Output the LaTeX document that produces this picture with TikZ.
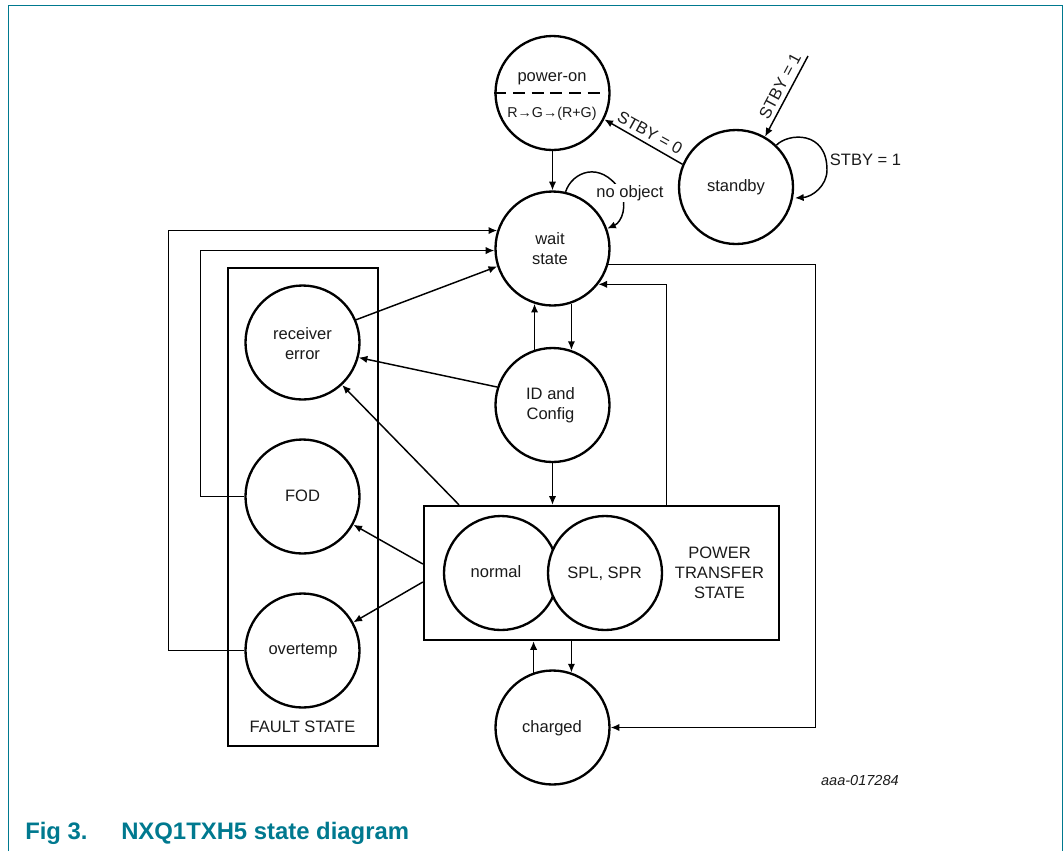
\documentclass[tikz,border=0pt]{standalone}
\usepackage{fontspec}
\setmainfont{Liberation Sans}
\usetikzlibrary{arrows.meta,calc}
\definecolor{nxp}{HTML}{00798F}
\definecolor{ink}{HTML}{1A1A1A}
\tikzset{
  st/.style={circle,draw=black,line width=1.75pt,fill=white,minimum size=85.5pt,inner sep=0pt,align=center,text=ink,font=\fontsize{12.4}{15}\selectfont},
  box/.style={draw=black,line width=1.75pt},
  con/.style={draw=black,line width=1.1pt,-{Latex[length=6.5pt,width=5.5pt]}},
  lbl/.style={text=ink,font=\fontsize{12.4}{15}\selectfont,inner sep=0pt},
}
\begin{document}
\begin{tikzpicture}[x=0.75pt,y=-0.75pt]
\useasboundingbox (0,0) rectangle (1064,851);
% frame
\draw[nxp,line width=0.95pt] (8.5,851) -- (8.5,5.5) -- (1062.5,5.5) -- (1062.5,851);
% boxes
\node[box,minimum width=112.5pt,minimum height=358.5pt,inner sep=0pt] (fault) at (303,507) {};
\node[box,minimum width=266.25pt,minimum height=100.5pt,inner sep=0pt] (power) at (601.5,573) {};
% states
\node[st] (on) at (552.5,93) {};
\node[st] (wait) at (552.5,248.5) {};
\node[st] (standby) at (736,187) {};
\node[st] (recv) at (302.5,342.5) {};
\node[st] (fod) at (302.5,496.5) {};
\node[st] (over) at (302.5,650.5) {};
\node[st] (id) at (552.5,405) {};
\node[st] (charged) at (552.5,727.5) {};
\node[st] (normal) at (501,573) {};
\node[st] (spl) at (605,573) {};
\node[lbl,align=center] (waittxt) at (550,249) {wait\\state};
\node[lbl,align=center] (idtxt) at (550.5,405.5) {ID and\\Config};
\node[lbl,align=center] (recvtxt) at (302.5,344) {receiver\\error};
\node[lbl] (fodtxt) at (302.5,496) {FOD};
\node[lbl] (overtxt) at (303,650.5) {overtemp};
\node[lbl] (chargedtxt) at (552,728) {charged};
\node[lbl] (standbytxt) at (736,187) {standby};
\node[lbl] (normaltxt) at (496,571.5) {normal};
\node[lbl] (spltxt) at (604.5,573.5) {SPL, SPR};
% power-on contents
\node[lbl] (ontxt) at (552,79) {power-on};
\node[lbl,font=\fontsize{10.7}{12}\selectfont] (rg) at (552,113.5) {R→G→(R+G)};
\coordinate (dashend) at (602,93);
\draw[black,line width=0.9pt,dash pattern=on 9pt off 5pt] (on.180) -- (dashend);
% inner labels
\node[lbl,align=center] (ptxt) at (719.5,573) {POWER\\TRANSFER\\STATE};
\node[lbl] (ftxt) at (302.5,726.5) {FAULT STATE};
% connectors
\draw[con] (on.270) -- (wait.90);
\coordinate (stby1) at (808,56);
\draw[con] (stby1) -- (standby.60);
\draw[con] (standby.157) -- (on.-27);
\draw[con] (standby.46) .. controls (788,133) and (827,130) .. (827,170) .. controls (827,186) and (812,197) .. (795,198);
\draw[con] (wait.77) .. controls (572,172) and (600,160) .. (620,190) .. controls (628,205) and (622,222) .. (wait.20);
\node[lbl,fill=white,inner xsep=1pt,inner ysep=1pt] (noobj) at (630,193) {no object};
\node[lbl] (s1r) at (865.5,160) {STBY = 1};
\node[lbl,rotate=-29] (s0) at (650,133) {STBY = 0};
\node[lbl,rotate=62] (s1) at (780,86) {STBY = 1};
\draw[con] (wait.-71.5) -- (id.71.5);
\draw[con] (id.108.5) -- (wait.-108.5);
\draw[con] (over.180) -| (168.5,0 |- wait.162) -- (wait.162);
\draw[con] (fod.180) -| (200.5,0 |- wait.182) -- (wait.182);
\draw[con] (recv.23) -- (wait.198);
\draw[con] (id.162) -- (recv.-15);
\draw[con] (459,0 |- power.north) -- (recv.-47);
\draw[con] (power.west |- 0,564) -- (fod.-29);
\draw[con] (power.west |- 0,582) -- (over.29);
\draw[con] (id.270) -- (power.north -| id);
\draw[con] (666.5,0 |- power.north) |- (wait.-38.2);
\draw[con] (wait.-16) -| (815.5,0 |- charged.0) -- (charged.0);
\draw[con] (charged.109) -- (charged.109 |- power.south);
\draw[con] (charged.71 |- power.south) -- (charged.71);
% caption
\node[anchor=base east,inner sep=0pt,text=ink,font=\fontsize{10.9}{12}\selectfont\itshape] (code) at (899,785) {aaa-017284};
\node[anchor=base west,inner sep=0pt,text=nxp,font=\fontsize{17.9}{20}\selectfont\bfseries] (fig) at (25,839) {Fig 3.};
\node[anchor=base west,inner sep=0pt,text=nxp,font=\fontsize{17.9}{20}\selectfont\bfseries] (title) at (121,839) {NXQ1TXH5 state diagram};
\end{tikzpicture}
\end{document}
